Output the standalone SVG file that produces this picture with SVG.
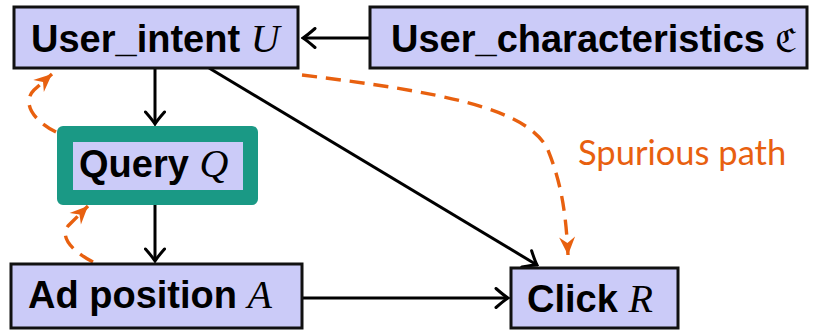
<svg xmlns="http://www.w3.org/2000/svg" width="813" height="332" viewBox="0 0 813 332">
  <defs>
    <style>
      .box { fill: #cbcbf8; stroke: #111; stroke-width: 3; }
      .lbl { font-family: "Liberation Sans", Arial, sans-serif; font-weight: bold; font-size: 38px; fill: #000; }
      .var { font-family: "Liberation Serif", "Times New Roman", serif; font-style: italic; font-weight: normal; font-size: 40px; }
      .edge { fill: none; stroke: #000; stroke-width: 3; }
      .spur { fill: none; stroke: #e8600f; stroke-width: 3.4; stroke-dasharray: 15 9; }
      .note { font-family: Lato, "Open Sans", sans-serif; font-size: 34.5px; fill: #e8600f; }
    </style>
    <marker id="head" viewBox="-14 -11 16 22" markerWidth="16" markerHeight="22" refX="0" refY="0" orient="auto" markerUnits="userSpaceOnUse">
      <path d="M-12,-9.5 Q-4,-2.5 0,0 Q-4,2.5 -12,9.5" fill="none" stroke="#000" stroke-width="3" stroke-linecap="round"/>
    </marker>
    <marker id="stealth" viewBox="-19 -9 21 18" markerWidth="21" markerHeight="18" refX="0" refY="0" orient="auto" markerUnits="userSpaceOnUse">
      <path d="M0,0 L-18,-8 L-12,0 L-18,8 Z" fill="#e8600f"/>
    </marker>
  </defs>

  <!-- causal edges -->
  <g id="edges">
    <line class="edge" x1="370" y1="38" x2="303" y2="38" marker-end="url(#head)"/>
    <line class="edge" x1="155" y1="68" x2="155" y2="124" marker-end="url(#head)"/>
    <line class="edge" x1="155" y1="205" x2="155" y2="261" marker-end="url(#head)"/>
    <line class="edge" x1="209" y1="68" x2="537" y2="265" marker-end="url(#head)"/>
    <line class="edge" x1="302" y1="298" x2="508" y2="298" marker-end="url(#head)"/>
    <!-- spurious dependencies -->
    <path class="spur" d="M302,75 C440,92 528,108 548,150 C562,185 566,215 568,255" marker-end="url(#stealth)"/>
    <path class="spur" d="M56,132 C32,120 22,102 34,90 L52,74" marker-end="url(#stealth)"/>
    <path class="spur" d="M93,262 C70,250 60,236 68,226 L88,206" marker-end="url(#stealth)"/>
  </g>

  <g id="user_intent">
    <rect class="box" x="14" y="7" width="284" height="61"/>
    <text class="lbl" x="31" y="52">User_intent <tspan class="var">U</tspan></text>
  </g>

  <g id="user_characteristics">
    <rect class="box" x="370" y="7" width="437" height="61"/>
    <text class="lbl" x="391" y="52">User_characteristics <tspan font-family="DejaVu Serif, serif" font-weight="normal" font-size="33">ℭ</tspan></text>
  </g>

  <g id="query">
    <rect x="57" y="126" width="201" height="79" rx="6" fill="#1a9985"/>
    <rect x="73" y="142" width="170" height="48" fill="#cbcbf8"/>
    <text class="lbl" x="79" y="177">Query <tspan class="var">Q</tspan></text>
  </g>

  <g id="ad_position">
    <rect class="box" x="11" y="264" width="291" height="64"/>
    <text class="lbl" x="28" y="308">Ad position <tspan class="var">A</tspan></text>
  </g>

  <g id="click">
    <rect class="box" x="511" y="268" width="167" height="60"/>
    <text class="lbl" x="527" y="312">Click <tspan class="var">R</tspan></text>
  </g>

  <text class="note" x="578" y="165">Spurious path</text>
</svg>
